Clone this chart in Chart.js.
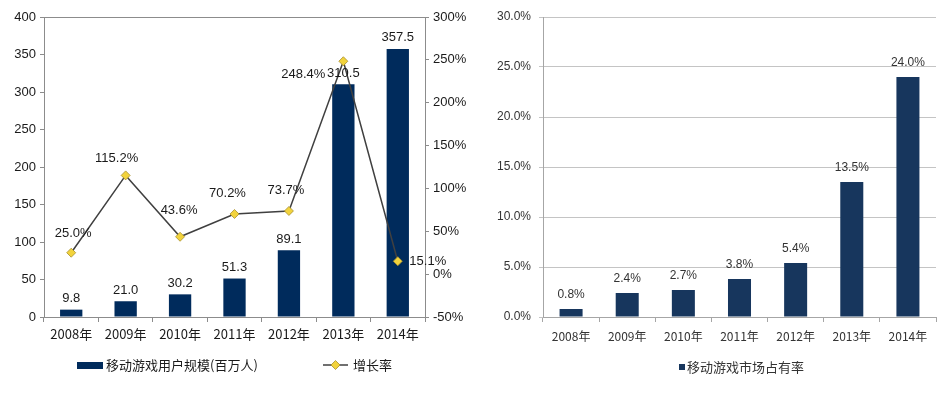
<!DOCTYPE html>
<html>
<head>
<meta charset="utf-8">
<script src="https://cdn.jsdelivr.net/npm/chart.js@4/dist/chart.umd.min.js"></script>
<style>
html, body { margin: 0; padding: 0; background: #fff; }
#wrap { position: relative; width: 943px; height: 394px; overflow: hidden; }
#c1 { position: absolute; left: 0; top: 0; }
#c2 { position: absolute; left: 480px; top: 0; }
</style>
</head>
<body>
<div id="wrap">
  <canvas id="c1" width="480" height="394"></canvas>
  <canvas id="c2" width="463" height="394"></canvas>
</div>
<script>
var years = ['2008年', '2009年', '2010年', '2011年', '2012年', '2013年', '2014年'];
var users = [9.8, 21.0, 30.2, 51.3, 89.1, 310.5, 357.5];
var growth = [25.0, 115.2, 43.6, 70.2, 73.7, 248.4, 15.1];
var share = [0.8, 2.4, 2.7, 3.8, 5.4, 13.5, 24.0];

var usersName = '移动游戏用户规模(百万人)';
var growthName = '增长率';
var shareName = '移动游戏市场占有率';

// where each growth label sits relative to its point
var growthLabelShift = [[2, -19], [-9, -17], [-1, -26], [-7, -21], [-3, -21], [-40, 13], [30, 0]];

var FONT = "'Liberation Sans', 'Noto Sans CJK SC', sans-serif";
var CJK = "'Noto Sans CJK SC', 'Liberation Sans', sans-serif";

Chart.defaults.font.family = FONT;
Chart.defaults.animation = false;

var leftPlugin = {
    id: 'leftExtras',
    afterDraw: function(chart) {
        var ctx = chart.ctx;
        var area = chart.chartArea;
        ctx.save();
        // top border
        ctx.strokeStyle = '#8c8c8c';
        ctx.lineWidth = 1;
        ctx.beginPath();
        ctx.moveTo(area.left, area.top + 0.5);
        ctx.lineTo(area.right, area.top + 0.5);
        ctx.stroke();

        ctx.fillStyle = '#1a1a1a';
        ctx.font = '13px ' + FONT;
        ctx.textAlign = 'center';
        ctx.textBaseline = 'middle';
        chart.getDatasetMeta(1).data.forEach(function(bar, i) {
            ctx.fillText(users[i].toFixed(1), bar.x, bar.y - 11);
        });
        chart.getDatasetMeta(0).data.forEach(function(pt, i) {
            var s = growthLabelShift[i];
            ctx.fillText(growth[i].toFixed(1) + '%', pt.x + s[0], pt.y + s[1]);
        });

        // legend
        var ly = 365;
        ctx.fillStyle = '#002b5c';
        ctx.fillRect(77, ly - 3, 26, 7);
        ctx.fillStyle = '#1a1a1a';
        ctx.textAlign = 'left';
        ctx.font = '13px ' + CJK;
        ctx.fillText(usersName, 106, ly);
        ctx.strokeStyle = '#404040';
        ctx.lineWidth = 1.5;
        ctx.beginPath();
        ctx.moveTo(323, ly);
        ctx.lineTo(348, ly);
        ctx.stroke();
        ctx.fillStyle = '#f2d33c';
        ctx.strokeStyle = '#a89030';
        ctx.lineWidth = 0.8;
        ctx.beginPath();
        ctx.moveTo(335.5, ly - 4.5);
        ctx.lineTo(340, ly);
        ctx.lineTo(335.5, ly + 4.5);
        ctx.lineTo(331, ly);
        ctx.closePath();
        ctx.fill();
        ctx.stroke();
        ctx.fillStyle = '#1a1a1a';
        ctx.fillText(growthName, 353, ly);
        ctx.restore();
    }
};

new Chart(document.getElementById('c1'), {
    type: 'bar',
    data: {
        labels: years,
        datasets: [{
            type: 'line',
            label: growthName,
            data: growth,
            yAxisID: 'y1',
            order: 0,
            borderColor: '#404040',
            borderWidth: 1.5,
            pointStyle: 'rectRot',
            pointRadius: 4.5,
            pointBackgroundColor: '#f2d33c',
            pointBorderColor: '#a89030',
            pointBorderWidth: 0.8,
            tension: 0
        }, {
            label: usersName,
            data: users,
            yAxisID: 'y',
            order: 1,
            backgroundColor: '#002b5c',
            barPercentage: 0.41,
            categoryPercentage: 1
        }]
    },
    options: {
        responsive: false,
        layout: { padding: { top: 17, left: 0, right: 0, bottom: 0 } },
        plugins: { legend: { display: false }, tooltip: { enabled: false } },
        scales: {
            x: {
                afterFit: function(s) { s.height = 77; },
                grid: { drawOnChartArea: false, offset: true, tickLength: 5, color: '#8c8c8c' },
                border: { color: '#8c8c8c' },
                ticks: { color: '#1a1a1a', font: { size: 13, family: CJK }, padding: 4, maxRotation: 0 }
            },
            y: {
                position: 'left',
                min: 0, max: 400,
                afterFit: function(s) { s.width = 44; },
                grid: { drawOnChartArea: false, tickLength: 4, color: '#8c8c8c' },
                border: { color: '#8c8c8c' },
                ticks: { stepSize: 50, color: '#1a1a1a', font: { size: 13 }, padding: 4 }
            },
            y1: {
                position: 'right',
                min: -50, max: 300,
                afterFit: function(s) { s.width = 55; },
                grid: { drawOnChartArea: false, tickLength: 4, color: '#8c8c8c' },
                border: { color: '#8c8c8c' },
                ticks: {
                    stepSize: 50, color: '#1a1a1a', font: { size: 13 }, padding: 4,
                    callback: function(v) { return v + '%'; }
                }
            }
        }
    },
    plugins: [leftPlugin]
});

var rightPlugin = {
    id: 'rightExtras',
    afterDraw: function(chart) {
        var ctx = chart.ctx;
        ctx.save();
        ctx.fillStyle = '#333';
        ctx.font = '12px ' + FONT;
        ctx.textAlign = 'center';
        ctx.textBaseline = 'middle';
        chart.getDatasetMeta(0).data.forEach(function(bar, i) {
            ctx.fillText(share[i].toFixed(1) + '%', bar.x, bar.y - 14);
        });
        var ly = 367;
        ctx.fillStyle = '#17365d';
        ctx.fillRect(199, ly - 3, 6, 6);
        ctx.fillStyle = '#333';
        ctx.textAlign = 'left';
        ctx.font = '13px ' + CJK;
        ctx.fillText(shareName, 207, ly);
        ctx.restore();
    }
};

new Chart(document.getElementById('c2'), {
    type: 'bar',
    data: {
        labels: years,
        datasets: [{
            label: shareName,
            data: share,
            backgroundColor: '#17365d',
            barPercentage: 0.41,
            categoryPercentage: 1
        }]
    },
    options: {
        responsive: false,
        layout: { padding: { top: 17, left: 0, right: 7, bottom: 0 } },
        plugins: { legend: { display: false }, tooltip: { enabled: false } },
        scales: {
            x: {
                afterFit: function(s) { s.height = 77; },
                grid: { drawOnChartArea: false, offset: true, tickLength: 5, color: '#a6a6a6' },
                border: { color: '#a6a6a6' },
                ticks: { color: '#333', font: { size: 12, family: CJK }, padding: 7, maxRotation: 0 }
            },
            y: {
                min: 0, max: 30,
                afterFit: function(s) { s.width = 63; },
                grid: { color: '#c4c4c4', tickLength: 4 },
                border: { color: '#a6a6a6' },
                ticks: {
                    stepSize: 5, color: '#333', font: { size: 12 }, padding: 8,
                    callback: function(v) { return v.toFixed(1) + '%'; }
                }
            }
        }
    },
    plugins: [rightPlugin]
});
</script>
</body>
</html>
